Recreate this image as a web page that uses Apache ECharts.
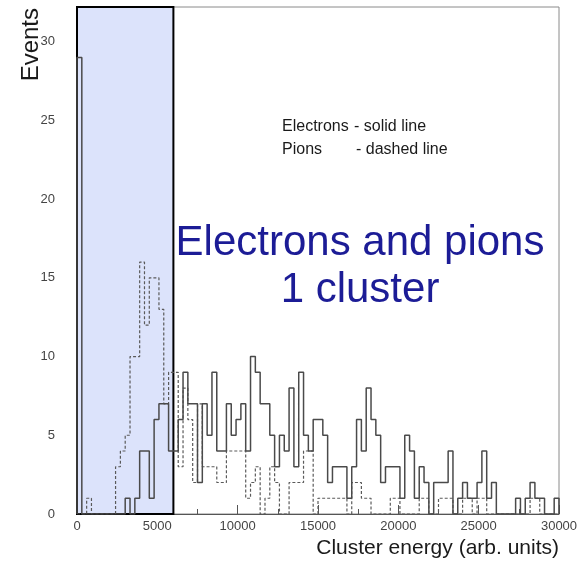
<!DOCTYPE html>
<html>
<head>
<meta charset="utf-8">
<script src="https://cdn.jsdelivr.net/npm/echarts@6/dist/echarts.min.js"></script>
<style>
  html, body { margin: 0; padding: 0; background: #fff; }
  #chart { width: 581px; height: 561px; }
</style>
</head>
<body>
<div id="chart"></div>
<script>
// Histogram binning: 100 bins of 300 units over 0..30000
const binWidth = 300;

// Electron events per bin (solid line)
const electrons = [
  29, 0, 0, 0, 0, 0, 0, 0, 0, 0,
  1, 0, 1, 4, 4, 1, 6, 7, 7, 4,
  4, 6, 9, 7, 7, 2, 7, 5, 9, 4,
  4, 7, 5, 6, 7, 4, 10, 9, 7, 7,
  5, 3, 5, 4, 8, 3, 9, 5, 4, 6,
  6, 5, 2, 3, 3, 3, 1, 3, 6, 4,
  8, 6, 5, 2, 3, 3, 3, 1, 5, 4,
  1, 3, 2, 0, 2, 2, 2, 4, 0, 1,
  2, 1, 1, 2, 4, 1, 2, 0, 0, 0,
  0, 1, 0, 1, 2, 1, 1, 0, 0, 1
];

// Pion events per bin (dashed line)
const pions = [
  0, 0, 1, 0, 0, 0, 0, 0, 3, 4,
  5, 10, 10, 16, 12, 15, 15, 13, 7, 9,
  9, 3, 8, 6, 2, 7, 3, 3, 3, 2,
  2, 4, 4, 4, 4, 1, 2, 3, 0, 1,
  3, 2, 0, 0, 2, 2, 2, 4, 4, 0,
  1, 1, 1, 1, 1, 1, 0, 2, 2, 1,
  1, 0, 0, 0, 0, 1, 1, 0, 0, 0,
  0, 1, 1, 0, 0, 1, 1, 1, 0, 0,
  1, 1, 0, 1, 1, 0, 0, 0, 0, 0,
  0, 0, 0, 0, 1, 1, 0, 0, 0, 0
];

// Energy window highlighted as the single-cluster region
const selectionRange = [0, 6000];

const xRange = [0, 30000];
const yRange = [0, 32.2];

const xTitle = 'Cluster energy (arb. units)';
const yTitle = 'Events';
const legendLines = [
  ['Electrons', '- solid line'],
  ['Pions', '- dashed line']
];
const headline = ['Electrons and pions', '1 cluster'];

// Turn bin counts into the outline of a histogram (flat tops, vertical edges)
function outline(counts) {
  const pts = [[0, 0]];
  counts.forEach((c, i) => {
    pts.push([i * binWidth, c]);
    pts.push([(i + 1) * binWidth, c]);
  });
  pts.push([counts.length * binWidth, 0]);
  return pts;
}

const FONT = "'Liberation Sans', Arial, Helvetica, sans-serif";
const chart = echarts.init(document.getElementById('chart'), null, { renderer: 'canvas' });

chart.setOption({
  animation: false,
  backgroundColor: '#ffffff',
  grid: {
    left: 77, right: 22, top: 7, bottom: 47,
    containLabel: false,
    outerBoundsMode: 'none',
    show: true, borderColor: '#8a8a8a', borderWidth: 1, backgroundColor: 'transparent'
  },
  xAxis: {
    type: 'value',
    min: xRange[0], max: xRange[1], interval: 5000,
    name: xTitle,
    nameLocation: 'end',
    nameGap: 0,
    nameTextStyle: {
      fontFamily: FONT, fontSize: 21, color: '#1a1a1a',
      align: 'right', verticalAlign: 'top', padding: [24, 0, 0, 0]
    },
    axisLine: { show: true, lineStyle: { color: '#555', width: 1 } },
    axisTick: { show: true, inside: true, length: 9, lineStyle: { color: '#555' } },
    minorTick: { show: true, splitNumber: 2, length: 5, lineStyle: { color: '#555' } },
    axisLabel: {
      fontFamily: FONT, fontSize: 13, color: '#444', margin: 6,
      formatter: v => String(v)
    },
    splitLine: { show: false }
  },
  yAxis: {
    type: 'value',
    min: yRange[0], max: yRange[1], interval: 5,
    axisLine: { show: true, lineStyle: { color: '#555', width: 1 } },
    axisTick: { show: true, inside: true, length: 8, lineStyle: { color: '#555' } },
    minorTick: { show: true, splitNumber: 5, length: 4, lineStyle: { color: '#555' } },
    axisLabel: {
      fontFamily: FONT, fontSize: 13, color: '#444', margin: 22,
      showMaxLabel: false,
      formatter: v => String(v)
    },
    splitLine: { show: false }
  },
  series: [
    {
      name: 'selection',
      type: 'line',
      data: [],
      z: 1,
      silent: true,
      markArea: {
        silent: true,
        itemStyle: { color: '#dce3fb', borderColor: '#000', borderWidth: 2 },
        data: [[
          { xAxis: selectionRange[0], yAxis: yRange[0] },
          { xAxis: selectionRange[1], yAxis: yRange[1] }
        ]]
      }
    },
    {
      name: 'Pions',
      type: 'line',
      data: outline(pions),
      showSymbol: false,
      z: 3,
      lineStyle: { color: '#5a5a5a', width: 1.2, type: [3, 2] }
    },
    {
      name: 'Electrons',
      type: 'line',
      data: outline(electrons),
      showSymbol: false,
      z: 4,
      lineStyle: { color: '#4a4a4a', width: 1.5 }
    }
  ],
  graphic: [
    { type: 'text', x: 31, y: 8, rotation: Math.PI / 2, z: 10,
      style: { text: yTitle, fontFamily: FONT, fontSize: 24, fill: '#1a1a1a',
               align: 'right', verticalAlign: 'middle' } },
    { type: 'text', left: 282, top: 119, z: 10,
      style: { text: legendLines[0][0], fontFamily: FONT, fontSize: 16, fill: '#1a1a1a' } },
    { type: 'text', left: 354, top: 119, z: 10,
      style: { text: legendLines[0][1], fontFamily: FONT, fontSize: 16, fill: '#1a1a1a' } },
    { type: 'text', left: 282, top: 142, z: 10,
      style: { text: legendLines[1][0], fontFamily: FONT, fontSize: 16, fill: '#1a1a1a' } },
    { type: 'text', left: 356, top: 142, z: 10,
      style: { text: legendLines[1][1], fontFamily: FONT, fontSize: 16, fill: '#1a1a1a' } },
    { type: 'text', x: 360, y: 243, z: 10,
      style: { text: headline[0], fontFamily: FONT, fontSize: 42, fill: '#1c1c96',
               align: 'center', verticalAlign: 'middle' } },
    { type: 'text', x: 360, y: 290, z: 10,
      style: { text: headline[1], fontFamily: FONT, fontSize: 42, fill: '#1c1c96',
               align: 'center', verticalAlign: 'middle' } }
  ]
});
</script>
</body>
</html>
